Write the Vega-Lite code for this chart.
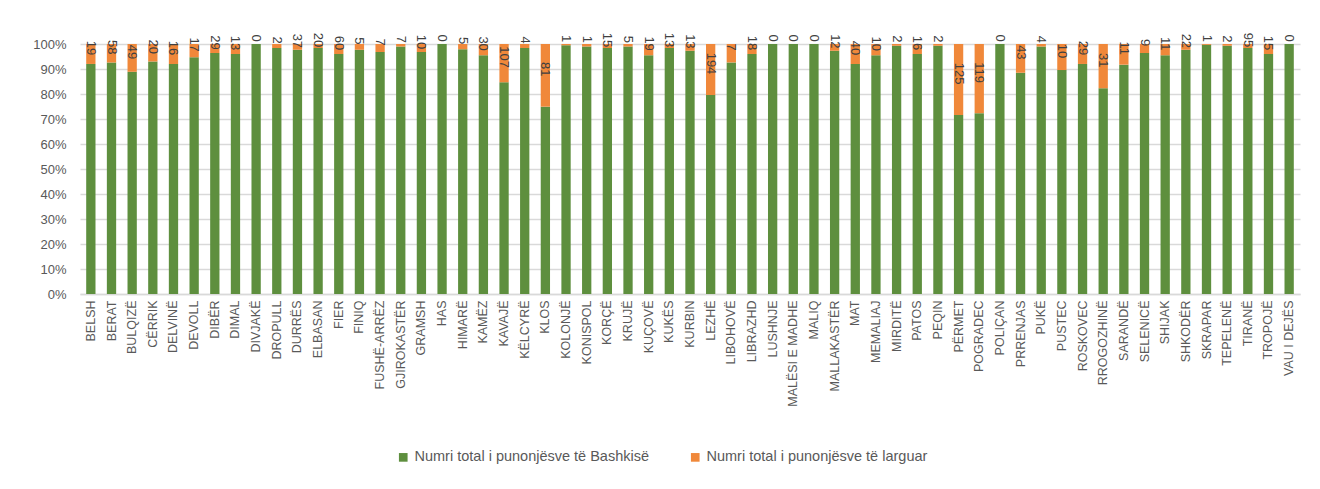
{
  "$schema": "https://vega.github.io/schema/vega-lite/v6.json",
  "width": 1220,
  "height": 250,
  "autosize": {"type": "none"},
  "padding": {"left": 80, "top": 44, "right": 20, "bottom": 195},
  "background": "white",
  "config": {
    "font": "Liberation Sans",
    "view": {"stroke": null}
  },
  "data": {
    "values": [
      {"bashkia": "BELSH", "Numri total i punonjësve të Bashkisë": 219, "Numri total i punonjësve të larguar": 19},
      {"bashkia": "BERAT", "Numri total i punonjësve të Bashkisë": 726, "Numri total i punonjësve të larguar": 58},
      {"bashkia": "BULQIZË", "Numri total i punonjësve të Bashkisë": 392, "Numri total i punonjësve të larguar": 49},
      {"bashkia": "CËRRIK", "Numri total i punonjësve të Bashkisë": 266, "Numri total i punonjësve të larguar": 20},
      {"bashkia": "DELVINË", "Numri total i punonjësve të Bashkisë": 184, "Numri total i punonjësve të larguar": 16},
      {"bashkia": "DEVOLL", "Numri total i punonjësve të Bashkisë": 304, "Numri total i punonjësve të larguar": 17},
      {"bashkia": "DIBËR", "Numri total i punonjësve të Bashkisë": 777, "Numri total i punonjësve të larguar": 29},
      {"bashkia": "DIMAL", "Numri total i punonjësve të Bashkisë": 312, "Numri total i punonjësve të larguar": 13},
      {"bashkia": "DIVJAKË", "Numri total i punonjësve të Bashkisë": 250, "Numri total i punonjësve të larguar": 0},
      {"bashkia": "DROPULL", "Numri total i punonjësve të Bashkisë": 123, "Numri total i punonjësve të larguar": 2},
      {"bashkia": "DURRËS", "Numri total i punonjësve të Bashkisë": 1572, "Numri total i punonjësve të larguar": 37},
      {"bashkia": "ELBASAN", "Numri total i punonjësve të Bashkisë": 1230, "Numri total i punonjësve të larguar": 20},
      {"bashkia": "FIER", "Numri total i punonjësve të Bashkisë": 1440, "Numri total i punonjësve të larguar": 60},
      {"bashkia": "FINIQ", "Numri total i punonjësve të Bashkisë": 212, "Numri total i punonjësve të larguar": 5},
      {"bashkia": "FUSHË-ARRËZ", "Numri total i punonjësve të Bashkisë": 212, "Numri total i punonjësve të larguar": 7},
      {"bashkia": "GJIROKASTËR", "Numri total i punonjësve të Bashkisë": 693, "Numri total i punonjësve të larguar": 7},
      {"bashkia": "GRAMSH", "Numri total i punonjësve të Bashkisë": 302, "Numri total i punonjësve të larguar": 10},
      {"bashkia": "HAS", "Numri total i punonjësve të Bashkisë": 120, "Numri total i punonjësve të larguar": 0},
      {"bashkia": "HIMARË", "Numri total i punonjësve të Bashkisë": 233, "Numri total i punonjësve të larguar": 5},
      {"bashkia": "KAMËZ", "Numri total i punonjësve të Bashkisë": 637, "Numri total i punonjësve të larguar": 30},
      {"bashkia": "KAVAJË", "Numri total i punonjësve të Bashkisë": 592, "Numri total i punonjësve të larguar": 107},
      {"bashkia": "KËLCYRË", "Numri total i punonjësve të Bashkisë": 246, "Numri total i punonjësve të larguar": 4},
      {"bashkia": "KLOS", "Numri total i punonjësve të Bashkisë": 242, "Numri total i punonjësve të larguar": 81},
      {"bashkia": "KOLONJË", "Numri total i punonjësve të Bashkisë": 199, "Numri total i punonjësve të larguar": 1},
      {"bashkia": "KONISPOL", "Numri total i punonjësve të Bashkisë": 99, "Numri total i punonjësve të larguar": 1},
      {"bashkia": "KORÇË", "Numri total i punonjësve të Bashkisë": 922, "Numri total i punonjësve të larguar": 15},
      {"bashkia": "KRUJË", "Numri total i punonjësve të Bashkisë": 495, "Numri total i punonjësve të larguar": 5},
      {"bashkia": "KUÇOVË", "Numri total i punonjësve të Bashkisë": 403, "Numri total i punonjësve të larguar": 19},
      {"bashkia": "KUKËS", "Numri total i punonjësve të Bashkisë": 800, "Numri total i punonjësve të larguar": 13},
      {"bashkia": "KURBIN", "Numri total i punonjësve të Bashkisë": 468, "Numri total i punonjësve të larguar": 13},
      {"bashkia": "LEZHË", "Numri total i punonjësve të Bashkisë": 757, "Numri total i punonjësve të larguar": 194},
      {"bashkia": "LIBOHOVË", "Numri total i punonjësve të Bashkisë": 88, "Numri total i punonjësve të larguar": 7},
      {"bashkia": "LIBRAZHD", "Numri total i punonjësve të Bashkisë": 432, "Numri total i punonjësve të larguar": 18},
      {"bashkia": "LUSHNJE", "Numri total i punonjësve të Bashkisë": 900, "Numri total i punonjësve të larguar": 0},
      {"bashkia": "MALËSI E MADHE", "Numri total i punonjësve të Bashkisë": 400, "Numri total i punonjësve të larguar": 0},
      {"bashkia": "MALIQ", "Numri total i punonjësve të Bashkisë": 500, "Numri total i punonjësve të larguar": 0},
      {"bashkia": "MALLAKASTËR", "Numri total i punonjësve të Bashkisë": 432, "Numri total i punonjësve të larguar": 12},
      {"bashkia": "MAT", "Numri total i punonjësve të Bashkisë": 460, "Numri total i punonjësve të larguar": 40},
      {"bashkia": "MEMALIAJ", "Numri total i punonjësve të Bashkisë": 212, "Numri total i punonjësve të larguar": 10},
      {"bashkia": "MIRDITË", "Numri total i punonjësve të Bashkisë": 284, "Numri total i punonjësve të larguar": 2},
      {"bashkia": "PATOS", "Numri total i punonjësve të Bashkisë": 384, "Numri total i punonjësve të larguar": 16},
      {"bashkia": "PEQIN", "Numri total i punonjësve të Bashkisë": 284, "Numri total i punonjësve të larguar": 2},
      {"bashkia": "PËRMET", "Numri total i punonjësve të Bashkisë": 315, "Numri total i punonjësve të larguar": 125},
      {"bashkia": "POGRADEC", "Numri total i punonjësve të Bashkisë": 311, "Numri total i punonjësve të larguar": 119},
      {"bashkia": "POLIÇAN", "Numri total i punonjësve të Bashkisë": 150, "Numri total i punonjësve të larguar": 0},
      {"bashkia": "PRRENJAS", "Numri total i punonjësve të Bashkisë": 331, "Numri total i punonjësve të larguar": 43},
      {"bashkia": "PUKË", "Numri total i punonjësve të Bashkisë": 396, "Numri total i punonjësve të larguar": 4},
      {"bashkia": "PUSTEC", "Numri total i punonjësve të Bashkisë": 86, "Numri total i punonjësve të larguar": 10},
      {"bashkia": "ROSKOVEC", "Numri total i punonjësve të Bashkisë": 334, "Numri total i punonjësve të larguar": 29},
      {"bashkia": "RROGOZHINË", "Numri total i punonjësve të Bashkisë": 144, "Numri total i punonjësve të larguar": 31},
      {"bashkia": "SARANDË", "Numri total i punonjësve të Bashkisë": 122, "Numri total i punonjësve të larguar": 11},
      {"bashkia": "SELENICË", "Numri total i punonjësve të Bashkisë": 241, "Numri total i punonjësve të larguar": 9},
      {"bashkia": "SHIJAK", "Numri total i punonjësve të Bashkisë": 233, "Numri total i punonjësve të larguar": 11},
      {"bashkia": "SHKODËR", "Numri total i punonjësve të Bashkisë": 935, "Numri total i punonjësve të larguar": 22},
      {"bashkia": "SKRAPAR", "Numri total i punonjësve të Bashkisë": 300, "Numri total i punonjësve të larguar": 1},
      {"bashkia": "TEPELENË", "Numri total i punonjësve të Bashkisë": 284, "Numri total i punonjësve të larguar": 2},
      {"bashkia": "TIRANË", "Numri total i punonjësve të Bashkisë": 5843, "Numri total i punonjësve të larguar": 95},
      {"bashkia": "TROPOJË", "Numri total i punonjësve të Bashkisë": 360, "Numri total i punonjësve të larguar": 15},
      {"bashkia": "VAU I DEJËS", "Numri total i punonjësve të Bashkisë": 250, "Numri total i punonjësve të larguar": 0}
    ]
  },
  "encoding": {
    "x": {
      "field": "bashkia",
      "type": "nominal",
      "sort": null,
      "scale": {"paddingInner": 0.55, "paddingOuter": 0.3},
      "axis": {
        "title": null,
        "labelAngle": -90,
        "labelFontSize": 12.5,
        "labelColor": "#595959",
        "labelPadding": 6,
        "ticks": false,
        "domainColor": "#D9D9D9",
        "domainWidth": 1.5,
        "labelLimit": 200
      }
    }
  },
  "layer": [
    {
      "transform": [
        {"fold": ["Numri total i punonjësve të Bashkisë", "Numri total i punonjësve të larguar"], "as": ["seria", "vlera"]}
      ],
      "mark": {"type": "bar"},
      "encoding": {
        "y": {
          "field": "vlera",
          "type": "quantitative",
          "stack": "normalize",
          "scale": {"domain": [0, 1]},
          "axis": {
            "title": null,
            "format": ".0%",
            "values": [0, 0.1, 0.2, 0.3, 0.4, 0.5, 0.6, 0.7, 0.8, 0.9, 1],
            "labelFontSize": 13,
            "labelColor": "#595959",
            "gridColor": "#D9D9D9",
            "gridWidth": 1.5,
            "domain": false,
            "ticks": false,
            "labelPadding": 14
          }
        },
        "color": {
          "field": "seria",
          "type": "nominal",
          "scale": {
            "domain": ["Numri total i punonjësve të Bashkisë", "Numri total i punonjësve të larguar"],
            "range": ["#5E8F3E", "#F0883A"]
          },
          "legend": {
            "title": null,
            "orient": "none",
            "direction": "horizontal",
            "legendX": 316,
            "legendY": 406,
            "symbolType": "square",
            "symbolSize": 75,
            "symbolStrokeWidth": 0,
            "labelFontSize": 14.5,
            "labelLimit": 400,
            "labelColor": "#595959",
            "columnPadding": 38
          }
        },
        "order": {"field": "seria", "sort": "ascending"}
      }
    },
    {
      "transform": [
        {"fold": ["Numri total i punonjësve të Bashkisë", "Numri total i punonjësve të larguar"], "as": ["seria", "vlera"]},
        {"stack": "vlera", "groupby": ["bashkia"], "offset": "normalize", "sort": [{"field": "seria", "order": "ascending"}], "as": ["s0", "s1"]},
        {"filter": "datum.seria === 'Numri total i punonjësve të larguar'"},
        {"fold": ["s0", "s1"], "as": ["k", "pos"]}
      ],
      "mark": {"type": "text", "angle": 90, "align": "center", "baseline": "middle", "fontSize": 13, "color": "#404040", "dx": -6},
      "encoding": {
        "y": {
          "aggregate": "mean",
          "field": "pos",
          "type": "quantitative",
          "axis": {
            "title": null,
            "format": ".0%",
            "values": [0, 0.1, 0.2, 0.3, 0.4, 0.5, 0.6, 0.7, 0.8, 0.9, 1],
            "labelFontSize": 13,
            "labelColor": "#595959",
            "gridColor": "#D9D9D9",
            "gridWidth": 1.5,
            "domain": false,
            "ticks": false,
            "labelPadding": 14
          }
        },
        "text": {"field": "vlera", "type": "quantitative"}
      }
    }
  ]
}
